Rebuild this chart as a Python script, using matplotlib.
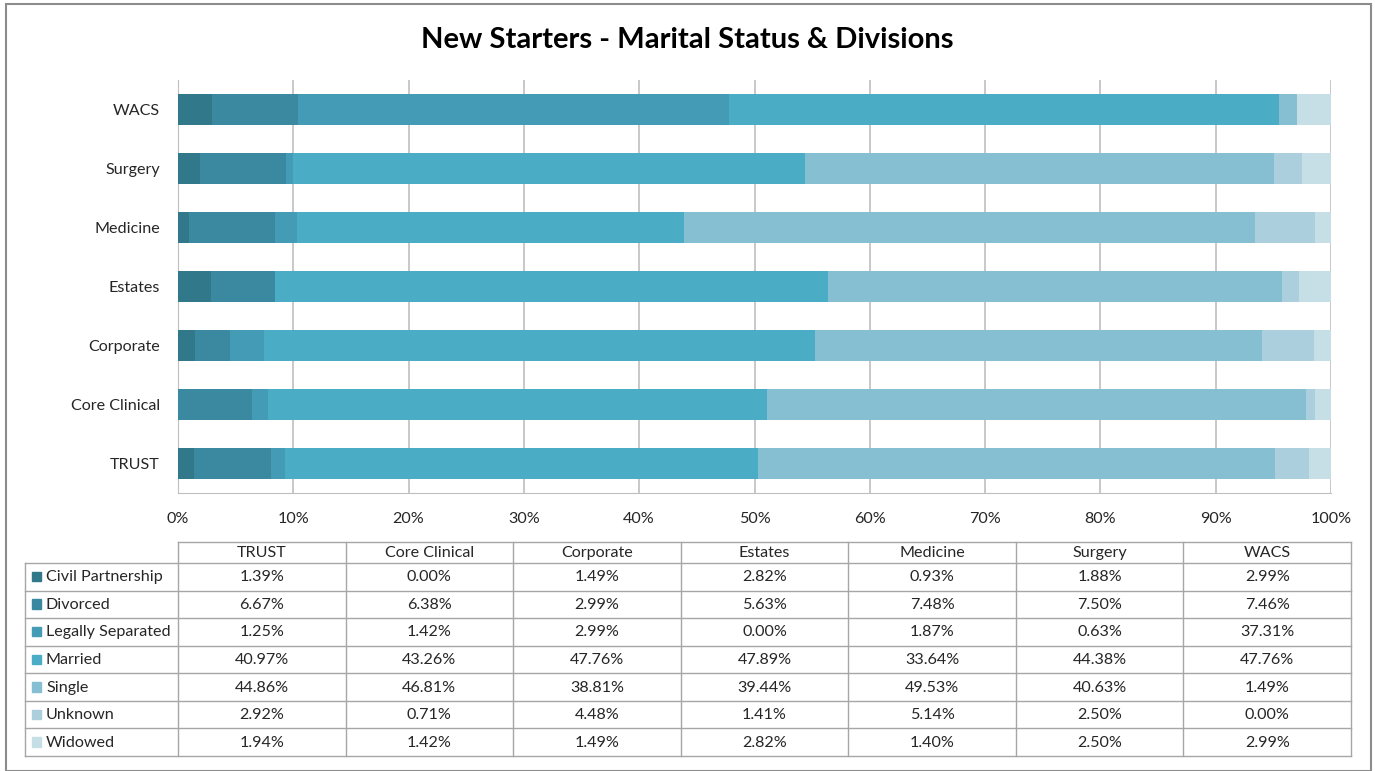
import numpy as np
import matplotlib.pyplot as plt
import matplotlib.patches as mpatches

plt.rcParams['font.family'] = ['Lato', 'DejaVu Sans']

# data (percent)
divisions = ['TRUST', 'Core Clinical', 'Corporate', 'Estates', 'Medicine', 'Surgery', 'WACS']
statuses  = ['Civil Partnership', 'Divorced', 'Legally Separated', 'Married', 'Single', 'Unknown', 'Widowed']
civil     = [1.39, 0.00, 1.49, 2.82, 0.93, 1.88, 2.99]
divorced  = [6.67, 6.38, 2.99, 5.63, 7.48, 7.50, 7.46]
separated = [1.25, 1.42, 2.99, 0.00, 1.87, 0.63, 37.31]
married   = [40.97, 43.26, 47.76, 47.89, 33.64, 44.38, 47.76]
single    = [44.86, 46.81, 38.81, 39.44, 49.53, 40.63, 1.49]
unknown   = [2.92, 0.71, 4.48, 1.41, 5.14, 2.50, 0.00]
widowed   = [1.94, 1.42, 1.49, 2.82, 1.40, 2.50, 2.99]
series    = [civil, divorced, separated, married, single, unknown, widowed]
colors    = ['#31788A', '#3A89A0', '#449BB5', '#4BACC6', '#86BFD2', '#ABCFDD', '#C6DEE6']

W, H = 1375, 771
FS = 11.6
fig = plt.figure(figsize=(W / 100, H / 100), dpi=100)

def px(x0, y0, x1, y1):
  # pixel box (top-left origin) -> figure fraction rect
  return [x0 / W, 1 - y1 / H, (x1 - x0) / W, (y1 - y0) / H]

# outer frame
fig.add_artist(mpatches.Rectangle((6 / W, 0), (1371 - 6) / W, 1 - 4 / H, transform=fig.transFigure,
                                  fill=False, edgecolor='#8C8C8C', lw=1.5))

fig.text(0.5, 1 - 40 / H, 'New Starters - Marital Status & Divisions', ha='center', va='center',
         fontsize=21, fontweight='bold', color='black')

# stacked bars
ax = fig.add_axes(px(178, 80, 1331, 493))
y = np.arange(len(divisions))
left = np.zeros(len(divisions))
for vals, col in zip(series, colors):
  ax.barh(y, vals, left=left, height=0.51, color=col, zorder=3)
  left += np.array(vals)

ax.set_xlim(0, 100)
ax.set_ylim(-0.5, len(divisions) - 0.5)
ax.set_xticks(np.arange(0, 101, 10))
ax.set_xticklabels(['%d%%' % v for v in range(0, 101, 10)], fontsize=FS, color='#262626')
ax.set_yticks(y)
ax.set_yticklabels(divisions, fontsize=FS, color='#262626')
ax.tick_params(axis='both', length=0)
ax.tick_params(axis='y', pad=13)
ax.tick_params(axis='x', pad=14)
ax.grid(axis='x', color='#BFBFBF', lw=1.2, zorder=0)
for s in ['top', 'right']:
  ax.spines[s].set_visible(False)
ax.spines['left'].set_color('#BFBFBF')
ax.spines['bottom'].set_color('#BFBFBF')

# data table
tx = fig.add_axes([0, 0, 1, 1])
tx.set_xlim(0, W)
tx.set_ylim(H, 0)
tx.axis('off')
col_x = np.linspace(178, 1351, len(divisions) + 1)
head_top, head_bot, tab_bot = 542, 563, 756
row_y = np.linspace(head_bot, tab_bot, len(statuses) + 1)
lc = '#A6A6A6'
# header
tx.plot([col_x[0], col_x[-1]], [head_top, head_top], color=lc, lw=1)
for cx in col_x:
  tx.plot([cx, cx], [head_top, tab_bot], color=lc, lw=1)
for i, d in enumerate(divisions):
  tx.text((col_x[i] + col_x[i + 1]) / 2, (head_top + head_bot) / 2 + 0.5, d, ha='center', va='center',
          fontsize=FS, color='#262626')
# rows
tx.plot([25, 25], [head_bot, tab_bot], color=lc, lw=1)
for ry in row_y:
  tx.plot([25, col_x[-1]], [ry, ry], color=lc, lw=1)
for j, (name, vals, col) in enumerate(zip(statuses, series, colors)):
  cy = (row_y[j] + row_y[j + 1]) / 2
  tx.add_patch(mpatches.Rectangle((32, cy - 5), 9.5, 9.5, color=col))
  tx.text(46, cy + 0.5, name, ha='left', va='center', fontsize=FS, color='#262626')
  for i, v in enumerate(vals):
    tx.text((col_x[i] + col_x[i + 1]) / 2, cy + 0.5, '%.2f%%' % v, ha='center', va='center',
            fontsize=FS, color='#262626')

fig.savefig('out.png', dpi=100)
